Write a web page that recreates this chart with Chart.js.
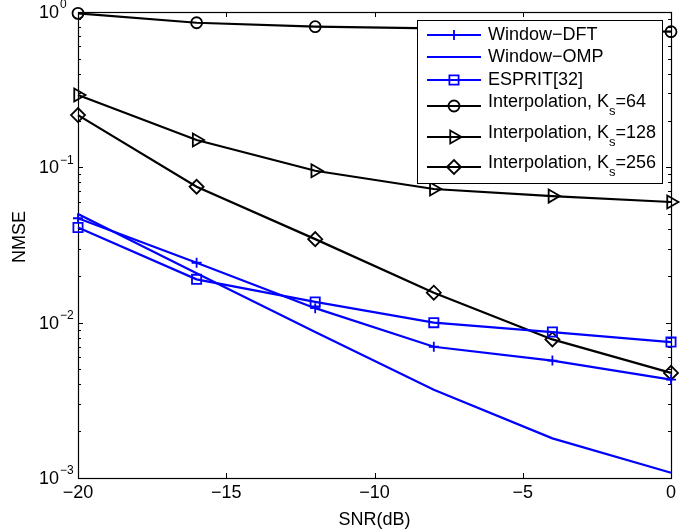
<!DOCTYPE html>
<html><head><meta charset="utf-8">
<script src="https://cdn.jsdelivr.net/npm/chart.js@4/dist/chart.umd.min.js"></script>
<style>html,body{margin:0;padding:0;background:#fff;}canvas{display:block;}</style>
</head><body>
<canvas id="c" width="694" height="531"></canvas>
<script>
// ---- data ----
const snr = [-20, -16, -12, -8, -4, 0];
const windowDFT   = [0.047, 0.0243, 0.0124, 0.0070, 0.0057, 0.0043];
const windowOMP   = [0.050, 0.0208, 0.0087, 0.0037, 0.0018, 0.00108];
const esprit      = [0.041, 0.019, 0.0136, 0.0100, 0.0087, 0.0075];
const interpKs64  = [0.98, 0.853, 0.804, 0.785, 0.765, 0.747];
const interpKs128 = [0.292, 0.150, 0.095, 0.0725, 0.0653, 0.0598];
const interpKs256 = [0.217, 0.075, 0.0345, 0.0156, 0.0078, 0.00475];
const xTicks = [-20, -15, -10, -5, 0];
const yTickExponents = [-3, -2, -1, 0];
const seriesLabels = [
  {main: 'Window\u2212DFT', sub: '', tail: ''},
  {main: 'Window\u2212OMP', sub: '', tail: ''},
  {main: 'ESPRIT[32]', sub: '', tail: ''},
  {main: 'Interpolation, K', sub: 's', tail: '=64'},
  {main: 'Interpolation, K', sub: 's', tail: '=128'},
  {main: 'Interpolation, K', sub: 's', tail: '=256'}
];
const xTitle = 'SNR(dB)';
const yTitle = 'NMSE';

const FONT = '"Liberation Sans", Arial, Helvetica, sans-serif';
const FS = 18;
const BLUE = '#0000ff', BLACK = '#000000';
const pts = vals => snr.map((x, i) => ({x, y: vals[i]}));
const fullLabel = l => l.main + l.sub + l.tail;

const styles = [
  {color: BLUE,  pointStyle: 'cross',    r: 5,   rot: 0},
  {color: BLUE,  pointStyle: false,      r: 0,   rot: 0},
  {color: BLUE,  pointStyle: 'rect',     r: 6.5, rot: 0},
  {color: BLACK, pointStyle: 'circle',   r: 5.5, rot: 0},
  {color: BLACK, pointStyle: 'triangle', r: 7.5, rot: 90},
  {color: BLACK, pointStyle: 'rectRot',  r: 7,   rot: 0}
];
const seriesValues = [windowDFT, windowOMP, esprit, interpKs64, interpKs128, interpKs256];

const datasets = seriesValues.map((vals, i) => ({
  label: fullLabel(seriesLabels[i]),
  data: pts(vals),
  borderColor: styles[i].color,
  backgroundColor: 'rgba(0,0,0,0)',
  pointBackgroundColor: 'rgba(0,0,0,0)',
  pointBorderColor: styles[i].color,
  borderWidth: 2.2,
  pointBorderWidth: 1.8,
  pointStyle: styles[i].pointStyle || 'circle',
  pointRadius: styles[i].r,
  pointRotation: styles[i].rot,
  tension: 0,
  fill: false,
  clip: false
}));

function marker(ctx, style, r, rot, x, y, color) {
  if (!style) return;
  ctx.save();
  ctx.strokeStyle = color; ctx.lineWidth = 1.8;
  ctx.beginPath();
  if (style === 'cross') {
    ctx.moveTo(x - r, y); ctx.lineTo(x + r, y); ctx.moveTo(x, y - r); ctx.lineTo(x, y + r);
  } else if (style === 'rect') {
    const s = r * Math.SQRT1_2; ctx.rect(x - s, y - s, 2 * s, 2 * s);
  } else if (style === 'circle') {
    ctx.arc(x, y, r, 0, Math.PI * 2);
  } else if (style === 'triangle') {
    let a = rot * Math.PI / 180;
    ctx.moveTo(x + Math.sin(a) * r, y - Math.cos(a) * r);
    a += 2 * Math.PI / 3; ctx.lineTo(x + Math.sin(a) * r, y - Math.cos(a) * r);
    a += 2 * Math.PI / 3; ctx.lineTo(x + Math.sin(a) * r, y - Math.cos(a) * r);
    ctx.closePath();
  } else if (style === 'rectRot') {
    ctx.moveTo(x - r, y); ctx.lineTo(x, y - r); ctx.lineTo(x + r, y); ctx.lineTo(x, y + r); ctx.closePath();
  }
  ctx.stroke();
  ctx.restore();
}

const framePlugin = {
  id: 'frame',
  beforeDatasetsDraw(chart) {
    const {ctx, chartArea: a, scales: {x, y}} = chart;
    ctx.save();
    ctx.strokeStyle = '#000'; ctx.lineWidth = 1;
    ctx.beginPath();
    xTicks.forEach(v => {
      if (v === xTicks[0] || v === xTicks[xTicks.length - 1]) return;
      const px = Math.round(x.getPixelForValue(v)) + 0.5;
      ctx.moveTo(px, a.bottom); ctx.lineTo(px, a.bottom - 5);
      ctx.moveTo(px, a.top); ctx.lineTo(px, a.top + 5);
    });
    for (let e = yTickExponents[0]; e < yTickExponents[yTickExponents.length - 1]; e++) {
      for (let m = 1; m <= 9; m++) {
        if (e === yTickExponents[0] && m === 1) continue;
        const py = Math.round(y.getPixelForValue(m * Math.pow(10, e))) + 0.5;
        const len = m === 1 ? 5 : 3;
        ctx.moveTo(a.left, py); ctx.lineTo(a.left + len, py);
        ctx.moveTo(a.right, py); ctx.lineTo(a.right - len, py);
      }
    }
    ctx.stroke();
    ctx.lineWidth = 1.2;
    ctx.strokeRect(Math.round(a.left) + 0.5, Math.round(a.top) + 0.5,
                   Math.round(a.right - a.left), Math.round(a.bottom - a.top));
    ctx.restore();
  },
  afterDatasetsDraw(chart) {
    const {ctx} = chart;
    // legend box
    const L = 417, T = 20, R = 662, B = 183;
    ctx.save();
    ctx.fillStyle = '#fff';
    ctx.fillRect(L, T, R - L, B - T);
    ctx.strokeStyle = '#000'; ctx.lineWidth = 1;
    ctx.strokeRect(L + 0.5, T + 0.5, R - L, B - T);
    const rowY = [35, 57, 80, 106, 137, 167];
    seriesLabels.forEach((lab, i) => {
      const st = styles[i];
      const yy = rowY[i];
      ctx.strokeStyle = st.color; ctx.lineWidth = 2.2;
      ctx.beginPath(); ctx.moveTo(427, yy); ctx.lineTo(481, yy); ctx.stroke();
      marker(ctx, st.pointStyle, st.r, st.rot, 454, yy, st.color);
      ctx.fillStyle = '#000';
      ctx.textAlign = 'left'; ctx.textBaseline = 'middle';
      const ty = lab.sub ? yy - 4 : yy;
      ctx.font = FS + 'px ' + FONT;
      ctx.fillText(lab.main, 488, ty);
      let xx = 488 + ctx.measureText(lab.main).width;
      if (lab.sub) {
        ctx.font = '13px ' + FONT;
        ctx.fillText(lab.sub, xx, ty + 9);
        xx += ctx.measureText(lab.sub).width;
        ctx.font = FS + 'px ' + FONT;
        ctx.fillText(lab.tail, xx, ty);
      }
    });
    ctx.restore();
  },
  afterDraw(chart) {
    const {ctx, scales: {y}} = chart;
    ctx.save();
    ctx.fillStyle = '#000';
    yTickExponents.forEach(e => {
      const py = y.getPixelForValue(Math.pow(10, e));
      ctx.font = FS + 'px ' + FONT;
      ctx.textAlign = 'right'; ctx.textBaseline = 'middle';
      ctx.fillText('10', 59, py + 1);
      ctx.font = '12px ' + FONT;
      ctx.textAlign = 'left';
      ctx.fillText(e < 0 ? '\u2212' + (-e) : String(e), 60, py - 7);
    });
    // y axis title
    ctx.translate(20, 237);
    ctx.rotate(-Math.PI / 2);
    ctx.font = FS + 'px ' + FONT;
    ctx.textAlign = 'center'; ctx.textBaseline = 'middle';
    ctx.fillText(yTitle, 0, 0);
    ctx.restore();
  }
};

new Chart(document.getElementById('c'), {
  type: 'line',
  data: {datasets},
  options: {
    responsive: false,
    animation: false,
    devicePixelRatio: 1,
    layout: {padding: {left: 0, right: 23, top: 12, bottom: 0}},
    plugins: {legend: {display: false}, tooltip: {enabled: false}},
    scales: {
      x: {
        type: 'linear', position: 'bottom', min: -20, max: 0,
        grid: {display: false, drawTicks: false, tickLength: 0},
        border: {display: false},
        afterBuildTicks: s => { s.ticks = xTicks.map(v => ({value: v})); },
        afterFit: s => { s.height = 53; },
        ticks: {
          color: '#000', padding: 4, maxRotation: 0, autoSkip: false,
          font: {family: FONT, size: FS},
          callback: v => (v < 0 ? '\u2212' + (-v) : String(v))
        },
        title: {display: true, text: xTitle, color: '#000',
                font: {family: FONT, size: FS}, padding: {top: 0, bottom: 0}}
      },
      y: {
        type: 'logarithmic', position: 'left', min: 0.001, max: 1,
        grid: {display: false, drawTicks: false, tickLength: 0},
        border: {display: false},
        ticks: {display: false},
        afterFit: s => { s.width = 78; },
        title: {display: false, text: yTitle}
      }
    }
  },
  plugins: [framePlugin]
});
</script>
</body></html>
